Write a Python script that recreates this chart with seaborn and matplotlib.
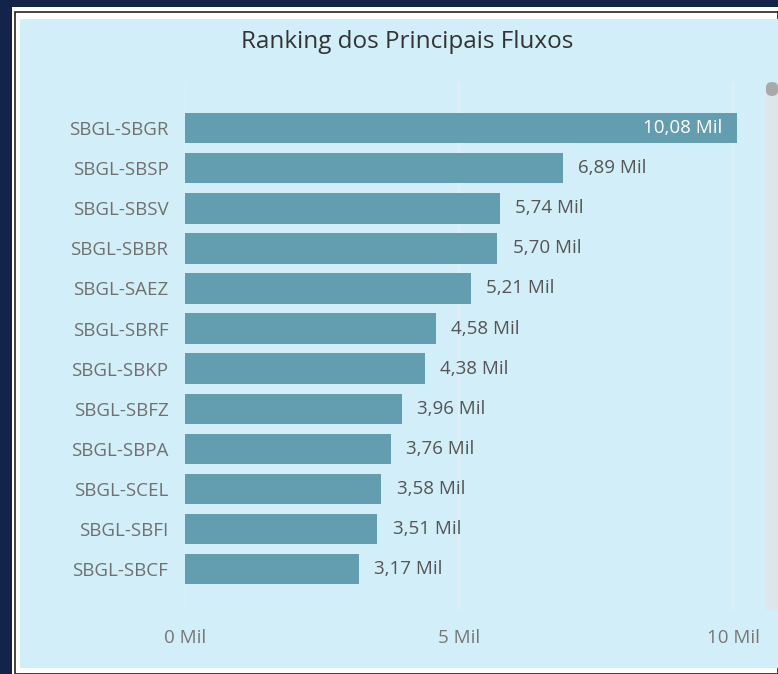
import pandas as pd
import seaborn as sns
import matplotlib.pyplot as plt
from matplotlib.patches import Rectangle, FancyBboxPatch

# dados do ranking (em milhares)
fluxos = ["SBGL-SBGR", "SBGL-SBSP", "SBGL-SBSV", "SBGL-SBBR", "SBGL-SAEZ", "SBGL-SBRF",
          "SBGL-SBKP", "SBGL-SBFZ", "SBGL-SBPA", "SBGL-SCEL", "SBGL-SBFI", "SBGL-SBCF"]
valores = [10.08, 6.89, 5.74, 5.70, 5.21, 4.58, 4.38, 3.96, 3.76, 3.58, 3.51, 3.17]
ticks_x = [0, 5, 10]
ticks_x_labels = ["0 Mil", "5 Mil", "10 Mil"]

navy = "#13234a"
painel = "#d2eef8"
cor_barra = "#639eb0"

df = pd.DataFrame({"fluxo": fluxos, "valor": valores})

sns.set_style("white")
plt.rcParams["font.family"] = ["Open Sans", "DejaVu Sans"]

W, H = 778, 674
fig = plt.figure(figsize=(W / 100, H / 100), dpi=100)
fig.patch.set_facecolor(navy)


def px(x0, y0, x1, y1):
    # retângulo em pixels -> coordenadas da figura
    return (x0 / W, 1 - y1 / H), (x1 - x0) / W, (y1 - y0) / H


for (x0, y0, x1, y1, fc, ec, lw, z) in [
    (12, 7, 778, 674, "white", "none", 0, -3),
    (15, 12, 778, 674, "none", "#222222", 1.2, -2),
    (20, 19, 778, 668, painel, "none", 0, -1),
]:
    xy, w, h = px(x0, y0, x1, y1)
    fig.patches.append(Rectangle(xy, w, h, transform=fig.transFigure,
                                 facecolor=fc, edgecolor=ec, linewidth=lw, zorder=z))

# barra de rolagem
xy, w, h = px(766, 85, 778, 610)
fig.patches.append(Rectangle(xy, w, h, transform=fig.transFigure,
                             facecolor="#dde6ea", edgecolor="none", zorder=1))
xy, w, h = px(766, 82, 778, 96)
fig.patches.append(FancyBboxPatch(xy, w, h, boxstyle="round,pad=0,rounding_size=0.008",
                                  transform=fig.transFigure, facecolor="#a9a9a9",
                                  edgecolor="none", zorder=2))

ax = fig.add_axes([185 / W, 1 - 610 / H, (760.5 - 185) / W, (610 - 82) / H])
ax.set_facecolor("none")

sns.barplot(data=df, x="valor", y="fluxo", orient="h", color=cor_barra,
            saturation=1, width=0.76, linewidth=0, ax=ax)

ax.set_xlim(0, 10.5)
ax.set_ylim(len(fluxos) - 1 + 1.02, -1.15)
ax.set_xticks(ticks_x)
ax.set_xticklabels(ticks_x_labels)
ax.grid(axis="x", color="#e6eef2", linewidth=1.2)
ax.set_axisbelow(True)
for s in ax.spines.values():
    s.set_visible(False)
ax.tick_params(axis="x", length=0, pad=14, labelsize=13.5, labelcolor="#777777")
ax.tick_params(axis="y", length=0, pad=12, labelsize=13.5, labelcolor="#707070")
ax.set_xlabel("")
ax.set_ylabel("")

for i, v in enumerate(valores):
    txt = f"{v:.2f}".replace(".", ",") + " Mil"
    if i == 0:
        ax.text(v - 0.28, i, txt, ha="right", va="center", color="white", fontsize=13.5)
    else:
        ax.text(v + 0.28, i, txt, ha="left", va="center", color="#555555", fontsize=13.5)

fig.text(407 / W, 1 - 42 / H, "Ranking dos Principais Fluxos", ha="center", va="center",
         fontsize=17.5, color="#333333")

plt.savefig("out.png", dpi=100, facecolor=fig.get_facecolor())
